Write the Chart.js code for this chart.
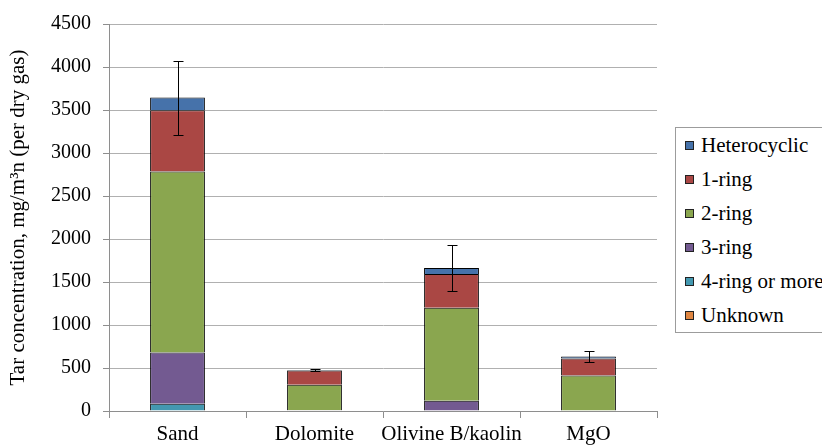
<!DOCTYPE html>
<html>
<head>
<meta charset="utf-8">
<title>Tar composition by bed material</title>
<script src="https://cdn.jsdelivr.net/npm/chart.js@4/dist/chart.umd.min.js"></script>
<style>
  html, body { margin: 0; padding: 0; background: #ffffff; overflow: hidden; }
  #wrap { position: relative; width: 822px; height: 446px; }
  #chart { position: absolute; left: 0; top: 0; }
  #legend {
    position: absolute; left: 675px; top: 127px; width: 170px; height: 206px;
    border: 1px solid #9c9c9c; box-sizing: border-box; background: #fff;
    font-family: "Liberation Serif", "Times New Roman", serif; font-size: 21px; color: #000;
  }
  #legend .item { height: 34px; display: flex; align-items: center; white-space: nowrap; }
  #legend .sw { width: 7px; height: 7px; border: 1px solid #222; margin-left: 9px; margin-right: 7px; flex: none; }
</style>
</head>
<body>
<div id="wrap">
  <canvas id="chart" width="822" height="446"></canvas>
  <div id="legend"></div>
</div>
<script>
// Bed materials on the x axis
const categories = ['Sand', 'Dolomite', 'Olivine B/kaolin', 'MgO'];

// Tar classes, mg/m³n, stacked bottom to top
const unknown      = [0, 0, 0, 0];
const ringFourPlus = [84, 0, 0, 0];
const ringThree    = [595, 10, 119, 0];
const ringTwo      = [2106, 294, 1081, 413];
const ringOne      = [712, 168, 393, 197];
const heterocyclic = [147, 6, 69, 23];

// Error (± half range) on the total tar concentration
const totalError = [430, 10, 268, 62];

// Y axis ticks
const yTicks = [0, 500, 1000, 1500, 2000, 2500, 3000, 3500, 4000, 4500];

const serif = '"Liberation Serif", "Times New Roman", serif';

const seriesDefs = [
  { label: 'Unknown',        data: unknown,      color: '#E08641' },
  { label: '4-ring or more', data: ringFourPlus, color: '#4398B0' },
  { label: '3-ring',         data: ringThree,    color: '#735A91' },
  { label: '2-ring',         data: ringTwo,      color: '#8AA64F' },
  { label: '1-ring',         data: ringOne,      color: '#AA4744' },
  { label: 'Heterocyclic',   data: heterocyclic, color: '#4672AA' }
];

// Each segment outlines its top and sides, so stacked boundaries get a single dark line
const datasets = seriesDefs.map(s => ({
  label: s.label,
  data: s.data,
  backgroundColor: s.color,
  borderColor: '#000000',
  borderWidth: { top: 1, left: 1, right: 1, bottom: 0 },
  borderSkipped: false,
  categoryPercentage: 1.0,
  barPercentage: 0.40
}));

// Draws the error bars on top of each stacked column
const errorBars = {
  id: 'errorBars',
  afterDatasetsDraw(chart) {
    const ctx = chart.ctx;
    const y = chart.scales.y;
    const topMeta = chart.getDatasetMeta(chart.data.datasets.length - 1);
    ctx.save();
    ctx.strokeStyle = '#000';
    ctx.lineWidth = 1;
    categories.forEach((c, i) => {
      const total = chart.data.datasets.reduce((sum, d) => sum + d.data[i], 0);
      const x = Math.round(topMeta.data[i].x) + 0.5;
      const yHi = Math.round(y.getPixelForValue(total + totalError[i])) + 0.5;
      const yLo = Math.round(y.getPixelForValue(total - totalError[i])) + 0.5;
      const cap = 5;
      ctx.beginPath();
      ctx.moveTo(x, yHi); ctx.lineTo(x, yLo);
      ctx.moveTo(x - cap, yHi); ctx.lineTo(x + cap, yHi);
      ctx.moveTo(x - cap, yLo); ctx.lineTo(x + cap, yLo);
      ctx.stroke();
    });
    ctx.restore();
  }
};

const chart = new Chart(document.getElementById('chart'), {
  type: 'bar',
  data: { labels: categories, datasets },
  options: {
    responsive: false,
    animation: false,
    devicePixelRatio: 1,
    layout: { padding: { top: 22, right: 165, bottom: 0, left: 0 } },
    plugins: { legend: { display: false }, tooltip: { enabled: false } },
    scales: {
      x: {
        stacked: true,
        afterFit: s => { s.height = 35; },
        grid: { display: true, drawOnChartArea: false, drawTicks: true, tickLength: 7, offset: true, color: '#8e8e8e' },
        border: { display: true, color: '#8e8e8e' },
        ticks: { color: '#000', font: { family: serif, size: 21 }, padding: 4, maxRotation: 0, autoSkip: false }
      },
      y: {
        stacked: true,
        min: 0,
        max: 4500,
        afterFit: s => { s.width = 109; },
        afterBuildTicks: s => { s.ticks = yTicks.map(v => ({ value: v })); },
        grid: { color: '#b0b0b0', tickLength: 6, drawTicks: true, tickColor: '#8e8e8e' },
        border: { display: true, color: '#8e8e8e' },
        ticks: { color: '#000', font: { family: serif, size: 20 }, padding: 12, callback: v => String(v) },
        title: {
          display: true,
          text: 'Tar concentration, mg/m³n (per dry gas)',
          color: '#000',
          font: { family: serif, size: 21 },
          padding: { top: 6, bottom: 0 }
        }
      }
    }
  },
  plugins: [errorBars]
});

// Legend listed top to bottom in the same order as the stack
const legend = document.getElementById('legend');
chart.data.datasets.slice().reverse().forEach(d => {
  const item = document.createElement('div');
  item.className = 'item';
  const sw = document.createElement('span');
  sw.className = 'sw';
  sw.style.background = d.backgroundColor;
  const txt = document.createElement('span');
  txt.textContent = d.label;
  item.appendChild(sw);
  item.appendChild(txt);
  legend.appendChild(item);
});
</script>
</body>
</html>
